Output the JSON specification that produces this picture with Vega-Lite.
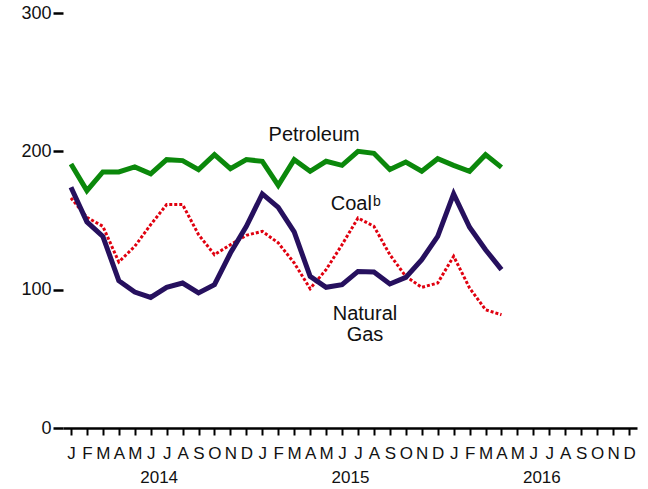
{
  "$schema": "https://vega.github.io/schema/vega-lite/v6.json",
  "width": 574,
  "height": 415,
  "autosize": {"type": "none"},
  "padding": {"left": 63, "top": 13, "right": 11, "bottom": 61},
  "config": {
    "view": {"stroke": null},
    "font": "Liberation Sans",
    "text": {"font": "Liberation Sans"}
  },
  "datasets": {
    "series": [
      {"month": "2014-01", "fuel": "Petroleum", "value": 190.9},
      {"month": "2014-02", "fuel": "Petroleum", "value": 171.6},
      {"month": "2014-03", "fuel": "Petroleum", "value": 185.1},
      {"month": "2014-04", "fuel": "Petroleum", "value": 185.1},
      {"month": "2014-05", "fuel": "Petroleum", "value": 188.7},
      {"month": "2014-06", "fuel": "Petroleum", "value": 183.7},
      {"month": "2014-07", "fuel": "Petroleum", "value": 194.0},
      {"month": "2014-08", "fuel": "Petroleum", "value": 193.3},
      {"month": "2014-09", "fuel": "Petroleum", "value": 186.8},
      {"month": "2014-10", "fuel": "Petroleum", "value": 197.6},
      {"month": "2014-11", "fuel": "Petroleum", "value": 187.5},
      {"month": "2014-12", "fuel": "Petroleum", "value": 194.0},
      {"month": "2015-01", "fuel": "Petroleum", "value": 192.8},
      {"month": "2015-02", "fuel": "Petroleum", "value": 175.4},
      {"month": "2015-03", "fuel": "Petroleum", "value": 194.0},
      {"month": "2015-04", "fuel": "Petroleum", "value": 185.6},
      {"month": "2015-05", "fuel": "Petroleum", "value": 192.8},
      {"month": "2015-06", "fuel": "Petroleum", "value": 189.9},
      {"month": "2015-07", "fuel": "Petroleum", "value": 200.0},
      {"month": "2015-08", "fuel": "Petroleum", "value": 198.6},
      {"month": "2015-09", "fuel": "Petroleum", "value": 186.8},
      {"month": "2015-10", "fuel": "Petroleum", "value": 192.3},
      {"month": "2015-11", "fuel": "Petroleum", "value": 185.6},
      {"month": "2015-12", "fuel": "Petroleum", "value": 194.7},
      {"month": "2016-01", "fuel": "Petroleum", "value": 189.9},
      {"month": "2016-02", "fuel": "Petroleum", "value": 185.6},
      {"month": "2016-03", "fuel": "Petroleum", "value": 197.6},
      {"month": "2016-04", "fuel": "Petroleum", "value": 188.4},
      {"month": "2014-01", "fuel": "Natural Gas", "value": 174.0},
      {"month": "2014-02", "fuel": "Natural Gas", "value": 149.0},
      {"month": "2014-03", "fuel": "Natural Gas", "value": 138.5},
      {"month": "2014-04", "fuel": "Natural Gas", "value": 106.5},
      {"month": "2014-05", "fuel": "Natural Gas", "value": 98.3},
      {"month": "2014-06", "fuel": "Natural Gas", "value": 94.4},
      {"month": "2014-07", "fuel": "Natural Gas", "value": 101.7},
      {"month": "2014-08", "fuel": "Natural Gas", "value": 104.8},
      {"month": "2014-09", "fuel": "Natural Gas", "value": 97.6},
      {"month": "2014-10", "fuel": "Natural Gas", "value": 103.6},
      {"month": "2014-11", "fuel": "Natural Gas", "value": 126.5},
      {"month": "2014-12", "fuel": "Natural Gas", "value": 145.8},
      {"month": "2015-01", "fuel": "Natural Gas", "value": 169.2},
      {"month": "2015-02", "fuel": "Natural Gas", "value": 159.5},
      {"month": "2015-03", "fuel": "Natural Gas", "value": 141.7},
      {"month": "2015-04", "fuel": "Natural Gas", "value": 109.6},
      {"month": "2015-05", "fuel": "Natural Gas", "value": 101.7},
      {"month": "2015-06", "fuel": "Natural Gas", "value": 103.6},
      {"month": "2015-07", "fuel": "Natural Gas", "value": 113.2},
      {"month": "2015-08", "fuel": "Natural Gas", "value": 112.8},
      {"month": "2015-09", "fuel": "Natural Gas", "value": 104.1},
      {"month": "2015-10", "fuel": "Natural Gas", "value": 108.9},
      {"month": "2015-11", "fuel": "Natural Gas", "value": 121.7},
      {"month": "2015-12", "fuel": "Natural Gas", "value": 138.5},
      {"month": "2016-01", "fuel": "Natural Gas", "value": 169.2},
      {"month": "2016-02", "fuel": "Natural Gas", "value": 145.1},
      {"month": "2016-03", "fuel": "Natural Gas", "value": 128.9},
      {"month": "2016-04", "fuel": "Natural Gas", "value": 114.5},
      {"month": "2014-01", "fuel": "Coal", "value": 166.3},
      {"month": "2014-02", "fuel": "Coal", "value": 152.3},
      {"month": "2014-03", "fuel": "Coal", "value": 145.8},
      {"month": "2014-04", "fuel": "Coal", "value": 120.0},
      {"month": "2014-05", "fuel": "Coal", "value": 131.3},
      {"month": "2014-06", "fuel": "Coal", "value": 147.0},
      {"month": "2014-07", "fuel": "Coal", "value": 161.5},
      {"month": "2014-08", "fuel": "Coal", "value": 161.5},
      {"month": "2014-09", "fuel": "Coal", "value": 139.8},
      {"month": "2014-10", "fuel": "Coal", "value": 125.3},
      {"month": "2014-11", "fuel": "Coal", "value": 132.5},
      {"month": "2014-12", "fuel": "Coal", "value": 139.3},
      {"month": "2015-01", "fuel": "Coal", "value": 142.2},
      {"month": "2015-02", "fuel": "Coal", "value": 133.8},
      {"month": "2015-03", "fuel": "Coal", "value": 119.3},
      {"month": "2015-04", "fuel": "Coal", "value": 100.7},
      {"month": "2015-05", "fuel": "Coal", "value": 114.5},
      {"month": "2015-06", "fuel": "Coal", "value": 132.5},
      {"month": "2015-07", "fuel": "Coal", "value": 151.8},
      {"month": "2015-08", "fuel": "Coal", "value": 145.8},
      {"month": "2015-09", "fuel": "Coal", "value": 125.3},
      {"month": "2015-10", "fuel": "Coal", "value": 109.6},
      {"month": "2015-11", "fuel": "Coal", "value": 101.7},
      {"month": "2015-12", "fuel": "Coal", "value": 104.8},
      {"month": "2016-01", "fuel": "Coal", "value": 124.1},
      {"month": "2016-02", "fuel": "Coal", "value": 101.2},
      {"month": "2016-03", "fuel": "Coal", "value": 85.5},
      {"month": "2016-04", "fuel": "Coal", "value": 81.9}
    ],
    "years": [
      {"year": "2014"},
      {"year": "2015"},
      {"year": "2016"}
    ]
  },
  "layer": [
    {
      "data": {"name": "series"},
      "encoding": {
        "x": {
          "field": "month",
          "type": "ordinal",
          "scale": {
            "domain": ["2014-01","2014-02","2014-03","2014-04","2014-05","2014-06","2014-07","2014-08","2014-09","2014-10","2014-11","2014-12","2015-01","2015-02","2015-03","2015-04","2015-05","2015-06","2015-07","2015-08","2015-09","2015-10","2015-11","2015-12","2016-01","2016-02","2016-03","2016-04","2016-05","2016-06","2016-07","2016-08","2016-09","2016-10","2016-11","2016-12"],
            "paddingInner": 0,
            "paddingOuter": 0
          },
          "axis": {
            "orient": "bottom",
            "title": null,
            "labelAngle": 0,
            "labelExpr": "substring('JFMAMJJASOND', toNumber(slice(datum.value,5))-1, toNumber(slice(datum.value,5)))",
            "labelFontSize": 17,
            "labelColor": "#111111",
            "labelPadding": 10,
            "labelFont": "Liberation Sans",
            "domainColor": "#000000",
            "domainWidth": 2.5,
            "tickColor": "#000000",
            "tickWidth": 2,
            "tickSize": 7,
            "grid": false
          }
        },
        "y": {
          "field": "value",
          "type": "quantitative",
          "scale": {"domain": [0, 300], "nice": false},
          "axis": {
            "title": null,
            "values": [0, 100, 200, 300],
            "domain": false,
            "grid": false,
            "tickColor": "#000000",
            "tickWidth": 2.5,
            "tickSize": 10,
            "labelFontSize": 18,
            "labelColor": "#111111",
            "labelPadding": 2,
            "labelFont": "Liberation Sans"
          }
        }
      },
      "layer": [
        {
          "transform": [{"filter": "datum.fuel === 'Coal'"}],
          "mark": {"type": "line", "color": "#e0000f", "strokeWidth": 3, "strokeDash": [3, 2]}
        },
        {
          "transform": [{"filter": "datum.fuel === 'Natural Gas'"}],
          "mark": {"type": "line", "color": "#26105e", "strokeWidth": 5, "strokeJoin": "miter"}
        },
        {
          "transform": [{"filter": "datum.fuel === 'Petroleum'"}],
          "mark": {"type": "line", "color": "#0b880b", "strokeWidth": 5, "strokeJoin": "miter"}
        },
        {
          "transform": [{"filter": "datum.fuel === 'Petroleum' && datum.month === '2015-04'"}],
          "mark": {"type": "text", "text": "Petroleum", "fontSize": 20, "align": "center", "baseline": "alphabetic", "dx": 4, "color": "#111111"},
          "encoding": {"y": {"datum": 207.2}}
        },
        {
          "transform": [{"filter": "datum.fuel === 'Coal' && datum.month === '2015-08'"}],
          "mark": {"type": "text", "text": "Coal", "fontSize": 20, "align": "right", "baseline": "alphabetic", "dx": -2, "color": "#111111"},
          "encoding": {"y": {"datum": 157.9}}
        },
        {
          "transform": [{"filter": "datum.fuel === 'Coal' && datum.month === '2015-08'"}],
          "mark": {"type": "text", "text": "b", "fontSize": 14, "align": "left", "baseline": "alphabetic", "dx": -1, "color": "#111111"},
          "encoding": {"y": {"datum": 160.8}}
        },
        {
          "transform": [{"filter": "datum.fuel === 'Natural Gas' && datum.month === '2015-07'"}],
          "mark": {"type": "text", "text": "Natural", "fontSize": 20, "align": "center", "baseline": "alphabetic", "dx": 7, "color": "#111111"},
          "encoding": {"y": {"datum": 78.3}}
        },
        {
          "transform": [{"filter": "datum.fuel === 'Natural Gas' && datum.month === '2015-07'"}],
          "mark": {"type": "text", "text": "Gas", "fontSize": 20, "align": "center", "baseline": "alphabetic", "dx": 7, "color": "#111111"},
          "encoding": {"y": {"datum": 62.6}}
        }
      ]
    },
    {
      "data": {"name": "years"},
      "mark": {"type": "text", "text": "", "opacity": 0},
      "encoding": {
        "x": {
          "field": "year",
          "type": "ordinal",
          "scale": {"domain": ["2014", "2015", "2016"], "paddingInner": 0, "paddingOuter": 0},
          "axis": {
            "orient": "bottom",
            "title": null,
            "labelAngle": 0,
            "domain": false,
            "ticks": false,
            "labelFontSize": 17,
            "labelColor": "#111111",
            "labelPadding": 41,
            "labelFont": "Liberation Sans",
            "grid": false
          }
        },
        "y": {"datum": 0, "type": "quantitative"}
      }
    }
  ],
  "resolve": {"scale": {"x": "independent"}, "axis": {"x": "independent"}}
}
